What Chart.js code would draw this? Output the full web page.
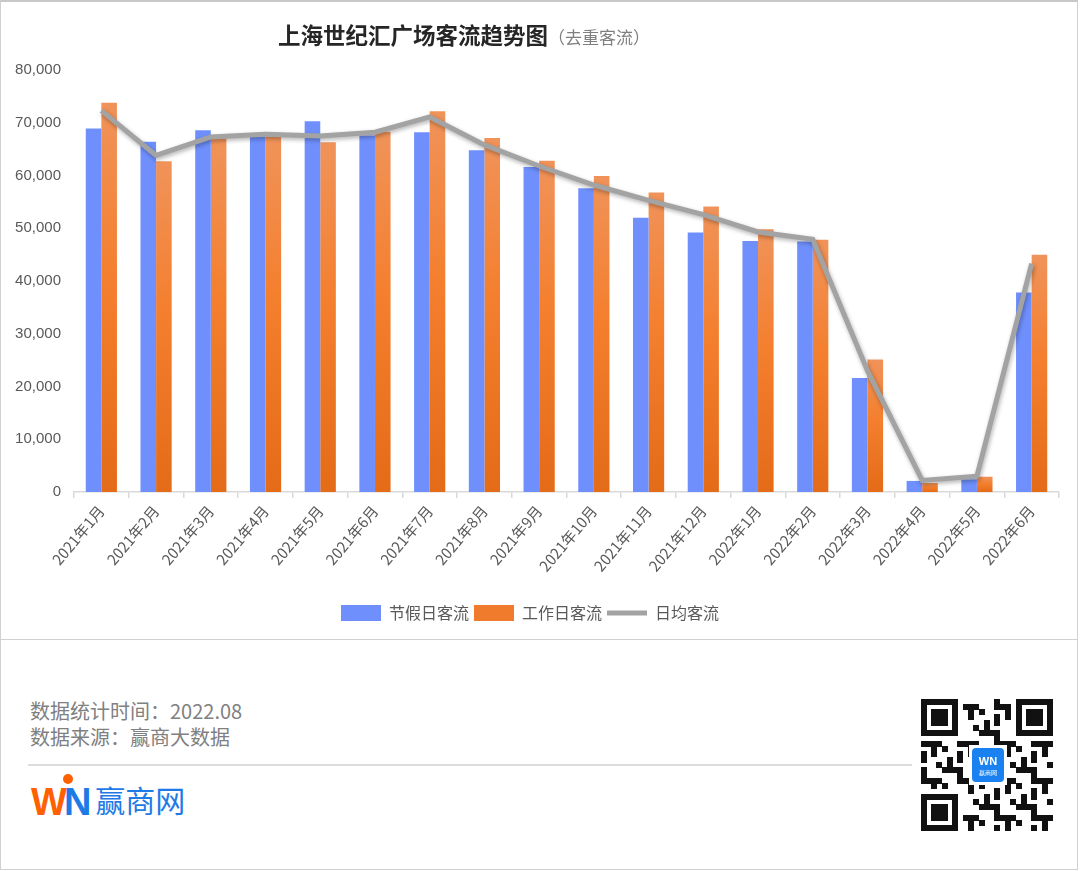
<!DOCTYPE html>
<html>
<head>
  <meta charset="utf-8">
  <title>上海世纪汇广场客流趋势图</title>
  <style>
    body { margin: 0; background: #fff; font-family: "Noto Sans CJK SC", "Noto Sans", sans-serif; }
    #page { position: relative; width: 1080px; height: 871px; background: #fff; overflow: hidden; }
    #chartBox {
      position: absolute; left: 0; top: 0; width: 1076px; height: 637px;
      border: 1px solid #d0d0d0; border-top: 2px solid #c8c8c8;
    }
    #chartBox canvas { position: absolute; left: 0; top: 0; }
    #title {
      position: absolute; left: 277px; top: 16px; white-space: nowrap;
      font-size: 22.5px; font-weight: bold; color: #262626;
    }
    #title span { font-size: 17px; font-weight: normal; color: #7f7f7f; }
    #footer {
      position: absolute; left: 0; top: 640px; width: 1076px; height: 229px;
      border: 1px solid #d0d0d0; border-top: none;
    }
    .note { position: absolute; left: 29px; font-size: 20px; color: #808080; }
    #rule { position: absolute; left: 27px; top: 124px; width: 884px; height: 2px; background: #dcdcdc; }
    #logo { position: absolute; left: 30px; top: 140px; white-space: nowrap; }
    #logo .w { font-family: "Liberation Sans", Arial, sans-serif; font-weight: bold; font-size: 38px; color: #ff6000; letter-spacing: -3px; }
    #logo .n { font-family: "Liberation Sans", Arial, sans-serif; font-weight: bold; font-size: 38px; color: #1e7be6; }
    #logo .cn { font-size: 30px; color: #1e7be6; margin-left: 4px; position: relative; top: -3px; }
    #dot { position: absolute; left: 62px; top: 134px; width: 10px; height: 10px; border-radius: 50%; background: #ff6000; }
    #qr { position: absolute; left: 920px; top: 59px; }
  </style>
  <script src="https://cdn.jsdelivr.net/npm/chart.js"></script>
</head>
<body>
<div id="page">
  <div id="chartBox">
    <canvas id="chart" width="1076" height="637"></canvas>
    <div id="title">上海世纪汇广场客流趋势图<span>（去重客流）</span></div>
  </div>
  <div id="footer">
    <div class="note" style="top:56px">数据统计时间：2022.08</div>
    <div class="note" style="top:82px">数据来源：赢商大数据</div>
    <div id="rule"></div>
    <div id="dot"></div>
    <div id="logo"><span class="w">W</span><span class="n">N</span><span class="cn">赢商网</span></div>
    <canvas id="qr" width="132" height="132"></canvas>
  </div>
</div>

<script>
  // 月份
  const months = ['2021年1月', '2021年2月', '2021年3月', '2021年4月', '2021年5月', '2021年6月',
    '2021年7月', '2021年8月', '2021年9月', '2021年10月', '2021年11月', '2021年12月',
    '2022年1月', '2022年2月', '2022年3月', '2022年4月', '2022年5月', '2022年6月'];

  // 节假日客流
  const holidayFlow = [68900, 66400, 68600, 67300, 70300, 67600, 68200, 64800, 61600,
    57600, 52000, 49200, 47600, 47500, 21600, 2100, 2400, 37800];

  // 工作日客流
  const workdayFlow = [73800, 62700, 67000, 67300, 66300, 68300, 72200, 67100, 62800,
    59900, 56800, 54100, 49800, 47800, 25100, 1700, 2900, 45000];

  // 日均客流
  const dailyFlow = [72300, 63800, 67300, 67800, 67500, 68200, 71100, 65800, 61800,
    58200, 55300, 52600, 49300, 47900, 23000, 2200, 3000, 43300];

  const yMax = 80000;
  const yStep = 10000;

  // 橙色柱子渐变（上浅下深）
  function orangeFill(ctx) {
    const chart = ctx.chart;
    if (!chart.chartArea || ctx.raw === undefined) return '#f07b2c';
    const y = chart.scales.y;
    const top = y.getPixelForValue(ctx.raw);
    const bottom = y.getPixelForValue(0);
    if (!(bottom > top)) return '#f07b2c';
    const g = chart.ctx.createLinearGradient(0, top, 0, bottom);
    g.addColorStop(0, '#f0935a');
    g.addColorStop(0.45, '#f47f2e');
    g.addColorStop(1, '#e46b18');
    return g;
  }

  const lineShadow = {
    id: 'lineShadow',
    beforeDatasetDraw(chart, args) {
      if (args.index === 2) {
        const c = chart.ctx;
        c.save();
        c.shadowColor = 'rgba(0,0,0,0.3)';
        c.shadowBlur = 4;
        c.shadowOffsetX = 1;
        c.shadowOffsetY = 2;
      }
    },
    afterDatasetDraw(chart, args) {
      if (args.index === 2) chart.ctx.restore();
    }
  };

  new Chart(document.getElementById('chart'), {
    type: 'bar',
    data: {
      labels: months,
      datasets: [
        {
          label: '节假日客流',
          data: holidayFlow,
          backgroundColor: '#6e8ffc',
          borderWidth: 0,
          pointStyle: 'rect',
          order: 1
        },
        {
          label: '工作日客流',
          data: workdayFlow,
          backgroundColor: orangeFill,
          borderWidth: 0,
          pointStyle: 'rect',
          order: 1
        },
        {
          type: 'line',
          label: '日均客流',
          data: dailyFlow,
          borderColor: '#a3a3a3',
          backgroundColor: '#a3a3a3',
          borderWidth: 5,
          pointRadius: 0,
          pointStyle: 'line',
          tension: 0,
          order: 0
        }
      ]
    },
    options: {
      responsive: false,
      animation: false,
      devicePixelRatio: 1,
      layout: { padding: { top: 68, right: 18, bottom: 8, left: 0 } },
      datasets: {
        bar: { barPercentage: 1, categoryPercentage: 0.57 }
      },
      plugins: {
        title: { display: false },
        tooltip: { enabled: false },
        legend: {
          position: 'bottom',
          labels: {
            usePointStyle: true,
            pointStyleWidth: 40,
            boxHeight: 16,
            padding: 5,
            color: '#595959',
            font: { size: 16, family: '"Noto Sans CJK SC", sans-serif' },
            sort: (a, b) => a.datasetIndex - b.datasetIndex,
            generateLabels(chart) {
              const items = Chart.defaults.plugins.legend.labels.generateLabels(chart);
              items.forEach(it => { if (it.datasetIndex === 1) it.fillStyle = '#f07b2c'; });
              return items;
            }
          }
        }
      },
      scales: {
        x: {
          grid: {
            display: true,
            drawOnChartArea: false,
            drawTicks: true,
            tickLength: 6,
            color: '#d9d9d9',
            lineWidth: 1.5
          },
          border: { display: true, color: '#d9d9d9', width: 1.5 },
          ticks: {
            minRotation: 50,
            maxRotation: 50,
            autoSkip: false,
            padding: 4,
            color: '#595959',
            font: { size: 15, family: '"Noto Sans CJK SC", sans-serif' }
          },
          afterFit(scale) { scale.height = 108; }
        },
        y: {
          min: 0,
          max: yMax,
          grid: { display: false },
          border: { display: false },
          ticks: {
            stepSize: yStep,
            padding: 5,
            color: '#595959',
            font: { size: 15, family: '"Liberation Sans", sans-serif' },
            callback: v => v.toLocaleString('en-US')
          },
          afterFit(scale) { scale.width = 73; }
        }
      }
    },
    plugins: [lineShadow]
  });

  // 二维码装饰
  (function drawQr() {
    const cv = document.getElementById('qr');
    const c = cv.getContext('2d');
    const n = 25, m = 132 / n;
    c.fillStyle = '#fff';
    c.fillRect(0, 0, 132, 132);
    c.fillStyle = '#111';
    const finder = (i, j) => {
      const inF = (a, b) => a >= 0 && a < 7 && b >= 0 && b < 7;
      for (const [ox, oy] of [[0, 0], [n - 7, 0], [0, n - 7]]) {
        const a = i - ox, b = j - oy;
        if (inF(a, b)) {
          const edge = a === 0 || a === 6 || b === 0 || b === 6;
          const core = a >= 2 && a <= 4 && b >= 2 && b <= 4;
          return edge || core ? 1 : 0;
        }
        if (a >= -1 && a <= 7 && b >= -1 && b <= 7) return 0;
      }
      return -1;
    };
    for (let i = 0; i < n; i++) {
      for (let j = 0; j < n; j++) {
        let v = finder(i, j);
        if (v === -1) v = ((i * i * 3 + j * 7 + i * j * 5 + j * j) % 7) < 3 ? 1 : 0;
        if (v) c.fillRect(Math.floor(i * m), Math.floor(j * m), Math.ceil(m), Math.ceil(m));
      }
    }
    c.fillStyle = '#fff';
    c.fillRect(48, 46, 38, 40);
    c.fillStyle = '#1a82f0';
    c.beginPath();
    c.roundRect(51, 49, 32, 34, 4);
    c.fill();
    c.fillStyle = '#fff';
    c.font = 'bold 11px "Liberation Sans", sans-serif';
    c.textAlign = 'center';
    c.fillText('WN', 67, 66);
    c.font = '6px "Noto Sans CJK SC", sans-serif';
    c.fillText('赢商网', 67, 76);
  })();
</script>
</body>
</html>
